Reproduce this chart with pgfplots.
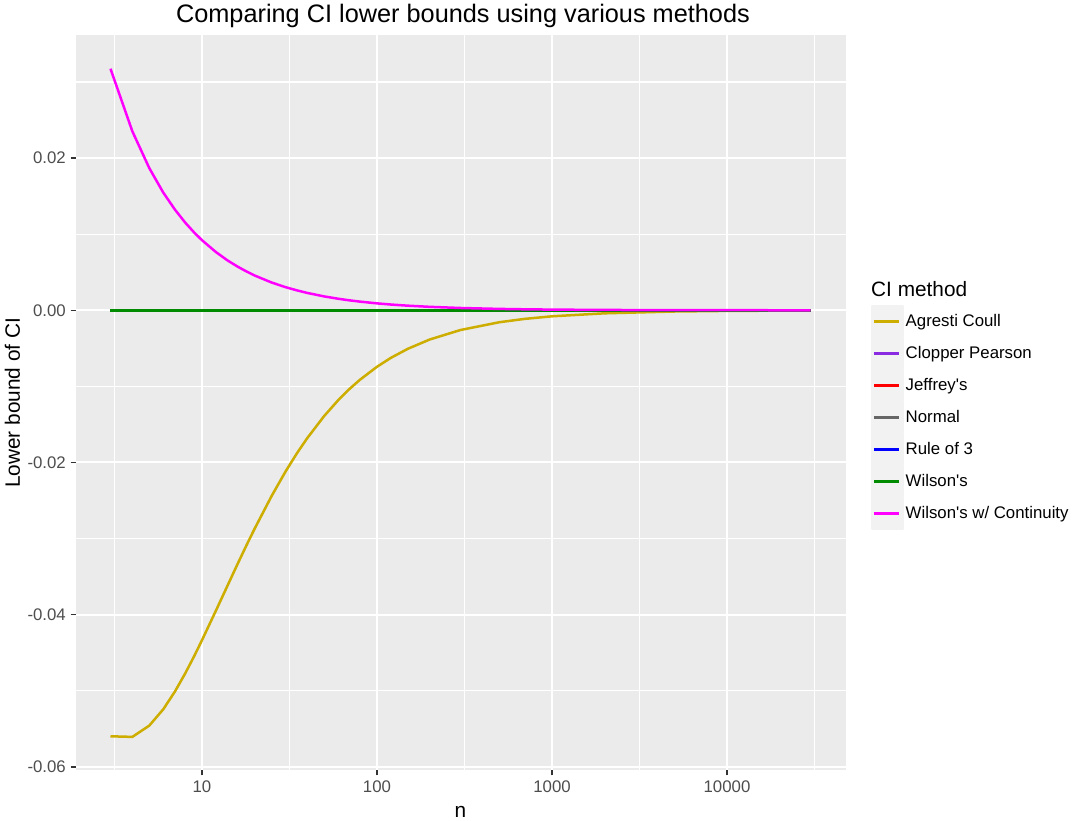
\documentclass[border=0pt]{standalone}
\usepackage{fontspec}
\setmainfont{Liberation Sans}
\usepackage{pgfplots}
\pgfplotsset{compat=1.18}
\usepackage{pgfplotstable}

\definecolor{panelbg}{HTML}{EBEBEB}
\definecolor{keybg}{HTML}{F2F2F2}
\definecolor{ticktext}{HTML}{4D4D4D}
\definecolor{tickmark}{HTML}{333333}
\definecolor{cAC}{HTML}{CDAD00}
\definecolor{cCP}{HTML}{8A2BE2}
\definecolor{cJF}{HTML}{FF0000}
\definecolor{cNM}{HTML}{666666}
\definecolor{cRT}{HTML}{0000FF}
\definecolor{cWI}{HTML}{008B00}
\definecolor{cWC}{HTML}{FF00FF}

% Lower bound of the CI for zero successes out of n trials
\pgfplotstableread{
n     ac         cp  jf  nm  rt  wi  wc
3     -0.05598   0   0   0   0   0   0.03175
4     -0.05606   0   0   0   0   0   0.02352
5     -0.05457   0   0   0   0   0   0.01868
6     -0.05245   0   0   0   0   0   0.01549
7     -0.05011   0   0   0   0   0   0.01324
8     -0.04776   0   0   0   0   0   0.01155
9     -0.04550   0   0   0   0   0   0.01025
10    -0.04335   0   0   0   0   0   0.00921
12    -0.03949   0   0   0   0   0   0.00766
14    -0.03617   0   0   0   0   0   0.00655
16    -0.03330   0   0   0   0   0   0.00573
18    -0.03083   0   0   0   0   0   0.00509
20    -0.02869   0   0   0   0   0   0.00457
25    -0.02440   0   0   0   0   0   0.00365
30    -0.02120   0   0   0   0   0   0.00304
35    -0.01873   0   0   0   0   0   0.00261
40    -0.01678   0   0   0   0   0   0.00228
50    -0.01387   0   0   0   0   0   0.00182
60    -0.01182   0   0   0   0   0   0.00152
70    -0.01029   0   0   0   0   0   0.00130
80    -0.00912   0   0   0   0   0   0.00114
100   -0.00742   0   0   0   0   0   0.000910
120   -0.00625   0   0   0   0   0   0.000758
150   -0.005061  0   0   0   0   0   0.000606
200   -0.003840  0   0   0   0   0   0.000455
300   -0.002590  0   0   0   0   0   0.000303
500   -0.001569  0   0   0   0   0   0.000182
700   -0.001125  0   0   0   0   0   0.000130
1000  -0.000790  0   0   0   0   0   0.0000909
2000  -0.000396  0   0   0   0   0   0.0000455
5000  -0.000159  0   0   0   0   0   0.0000182
10000 -0.0000795 0   0   0   0   0   0.0000091
30000 -0.0000265 0   0   0   0   0   0.0000030
}\lowerbounds

\begin{document}
\begin{tikzpicture}
\begin{axis}[
  at={(75.5bp,50.7bp)}, anchor=south west,
  scale only axis, width=770bp, height=735bp,
  xmode=log, xmin=1.8934, xmax=47546,
  ymin=-0.06045, ymax=0.03614,
  scaled y ticks=false,
  axis background/.style={fill=panelbg},
  axis line style={draw=none},
  grid=both,
  major grid style={white, line width=2bp},
  minor grid style={white, line width=1.1bp},
  xtick={10,100,1000,10000},
  xticklabels={10,100,1000,10000},
  minor xtick={3.16228,31.6228,316.228,3162.28,31622.8},
  ytick={-0.06,-0.04,-0.02,0,0.02},
  yticklabels={-0.06,-0.04,-0.02,0.00,0.02},
  minor ytick={-0.05,-0.03,-0.01,0.01,0.03},
  xtick pos=bottom, ytick pos=left,
  tick align=outside,
  major tick length=5bp, minor tick length=0pt,
  tick style={tickmark, line width=1.5bp},
  tick label style={font=\fontsize{16.8bp}{20bp}\selectfont, text=ticktext, inner sep=0pt},
  yticklabel style={anchor=east, xshift=-4.5bp},
  xticklabel style={anchor=north, yshift=-5.5bp},
  title={Comparing CI lower bounds using various methods},
  title style={at={(axis description cs:0.5032,1.0086)}, anchor=base, inner sep=0pt,
    font=\fontsize{25.3bp}{30bp}\selectfont},
  xlabel={n},
  xlabel style={at={(axis description cs:0.5,-0.0649)}, anchor=base, inner sep=0pt,
    font=\fontsize{20.8bp}{25bp}\selectfont},
  ylabel={Lower bound of CI},
  ylabel style={at={(axis description cs:-0.0818,0.5)}, anchor=center, inner sep=0pt,
    font=\fontsize{20.8bp}{25bp}\selectfont},
  every axis plot/.append style={line width=2.5bp, no markers, line join=round},
  legend cell align=left,
  legend style={at={(axis description cs:1.0325,0.6337)}, anchor=north west,
    draw=none, fill=none, inner sep=0pt, row sep=-1.5bp, column sep=1.5bp,
    font=\fontsize{16.8bp}{20bp}\selectfont, nodes={inner sep=0pt}},
  legend image code/.code={
    \fill[keybg] (0bp,-15.5bp) rectangle (31bp,15.5bp);
    \draw[line cap=butt, line width=2.6bp] (2.5bp,0bp) -- (27.5bp,0bp);
  },
]
\addplot[color=cAC] table[x=n, y=ac] {\lowerbounds};
\addlegendentry{Agresti Coull}
\addplot[color=cCP] table[x=n, y=cp] {\lowerbounds};
\addlegendentry{Clopper Pearson}
\addplot[color=cJF] table[x=n, y=jf] {\lowerbounds};
\addlegendentry{Jeffrey\textquotesingle s}
\addplot[color=cNM] table[x=n, y=nm] {\lowerbounds};
\addlegendentry{Normal}
\addplot[color=cRT] table[x=n, y=rt] {\lowerbounds};
\addlegendentry{Rule of 3}
\addplot[color=cWI] table[x=n, y=wi] {\lowerbounds};
\addlegendentry{Wilson\textquotesingle s}
\addplot[color=cWC] table[x=n, y=wc] {\lowerbounds};
\addlegendentry{Wilson\textquotesingle s w/ Continuity}
\end{axis}
\node[anchor=base west, inner sep=0pt, font=\fontsize{20.8bp}{25bp}\selectfont]
  at (871bp,524bp) {CI method};
\pgfresetboundingbox
\path[use as bounding box] (0,0) rectangle (1072bp,821bp);
\end{tikzpicture}
\end{document}
